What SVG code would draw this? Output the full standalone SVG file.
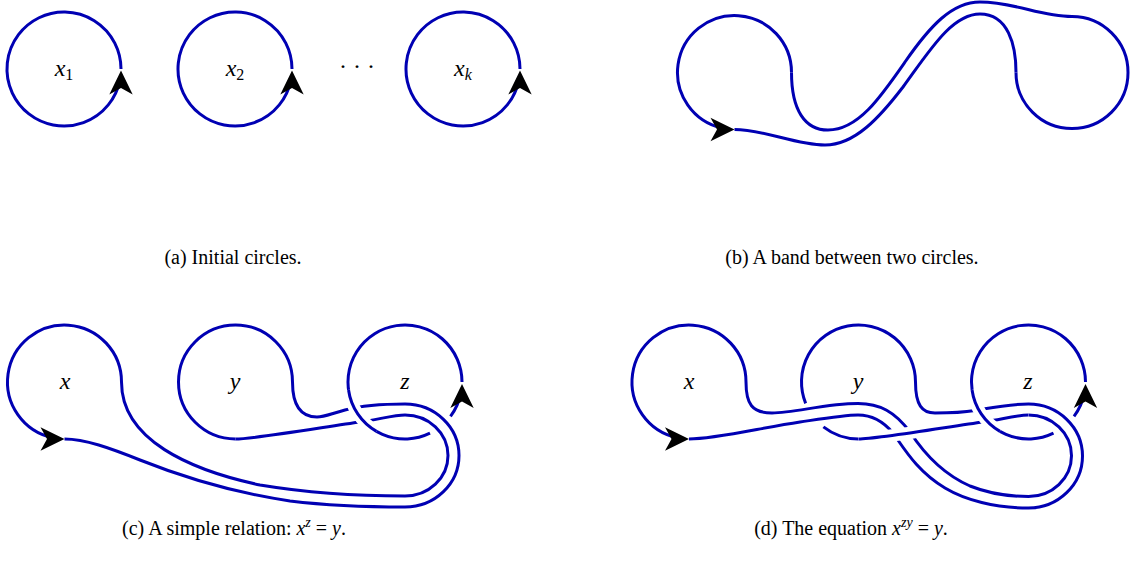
<svg xmlns="http://www.w3.org/2000/svg" width="1130" height="563" viewBox="0 0 1130 563">
<defs>
<path id="ah" d="M0,0 L-24,-11.7 L-17.5,0 L-24,11.7 Z" fill="#000"/>
</defs>
<style>
.c{fill:none;stroke:#0000B3;stroke-width:3}
.h{fill:none;stroke:#fff;stroke-width:12}
.lbl{font-family:"Liberation Serif",serif;font-style:italic;font-size:24px;fill:#000;text-anchor:middle}
.sub{font-size:16px}
.up{font-style:normal}
.cap{font-family:"Liberation Serif",serif;font-size:20px;fill:#000;text-anchor:middle}
.m{font-style:italic}
</style>
<rect width="1130" height="563" fill="#fff"/>

<!-- (a) -->
<g id="a-x1">
<path class="c" d="M121,69 A57,57 0 1 0 119.75,80.85"/>
<use href="#ah" transform="translate(121,70.5) rotate(-90)"/>
<text class="lbl" x="64" y="76">x<tspan class="sub up" dy="4">1</tspan></text>
</g>
<g id="a-x2">
<path class="c" d="M292,69 A57,57 0 1 0 290.75,80.85"/>
<use href="#ah" transform="translate(292,70.5) rotate(-90)"/>
<text class="lbl" x="235" y="76">x<tspan class="sub up" dy="4">2</tspan></text>
</g>
<g id="a-dots">
<text class="lbl up" x="357" y="74" style="font-style:normal">· · ·</text>
</g>
<g id="a-xk">
<path class="c" d="M520,69 A57,57 0 1 0 518.75,80.85"/>
<use href="#ah" transform="translate(520,70.5) rotate(-90)"/>
<text class="lbl" x="463" y="76">x<tspan class="sub" dy="4">k</tspan></text>
</g>
<text class="cap" x="233" y="264">(a) Initial circles.</text>

<!-- (b) -->
<g id="b-left">
<path class="c" d="M791.5,72.5 A57,57 0 1 0 722.65,128.25"/>
</g>
<g id="b-right">
<path class="c" d="M1016,72.5 A56,56 0 1 0 1072,16.5"/>
</g>
<g id="b-band">
<path class="c" d="M791.5,72.5 C791.5,110 805,130 828,130 C858,130 880,98 905,62 C930,26 952,2 980,2 C1015,2 1040,16.5 1072,16.5"/>
<path class="c" d="M734.5,129.5 C765,129.5 795,145 825,145 C855,145 880,117 903,87 C930,50 952,14 980,14 C1008,14 1016,45 1016,72.5"/>
</g>
<use href="#ah" transform="translate(734.5,129.5)"/>
<text class="cap" x="852" y="264">(b) A band between two circles.</text>

<!-- (c) -->
<g id="c-x">
<path class="c" d="M121.5,382 A57,57 0 1 0 52.65,437.75"/>
<text class="lbl" x="65" y="389">x</text>
</g>
<g id="c-y">
<path class="c" d="M292.5,382 A57,57 0 1 0 235.5,439"/>
<text class="lbl" x="235" y="389">y</text>
</g>
<g id="c-z">
<path class="c" d="M462,382 A57,57 0 1 0 430,433.2"/>
<path class="c" d="M450.5,416.3 A57,57 0 0 0 460.75,393.85"/>
<text class="lbl" x="405" y="389">z</text>
</g>
<g id="c-band">
<path class="c" d="M121.5,382 C121.5,440 190,470 260,485 C320,495 370,496 405,496 C428.7,496 448,477.9 448,455.5 C448,433.1 428.7,415 405,415 C395,415 380,419 360,422 C330,426 255,439 235.5,439"/>
<path class="c" d="M64.5,439 C85,439 110,448 140,460 C180,476 230,492 290,501 C340,507 380,507 405,507 C434.8,507 459,484 459,455.5 C459,427 434.8,404 405,404 C385,404 360,406 345,410 C330,414 325,417 317,417 C300,417 292.5,405 292.5,382"/>
</g>
<g id="c-z-over">
<path class="h" d="M376.5,431.36 A57,57 0 0 1 348.55,389.93"/>
<path class="c" d="M376.5,431.36 A57,57 0 0 1 348.55,389.93"/>
</g>
<use href="#ah" transform="translate(64.5,439)"/>
<use href="#ah" transform="translate(462,384) rotate(-90)"/>
<text class="cap" x="234" y="535">(c) A simple relation: <tspan class="m">x</tspan><tspan class="m" font-size="14" dy="-8">z</tspan><tspan dy="8"> = </tspan><tspan class="m">y</tspan>.</text>

<!-- (d) -->
<g id="d-x">
<path class="c" d="M746,382 A57,57 0 1 0 677.15,437.75"/>
<text class="lbl" x="689" y="389">x</text>
</g>
<g id="d-y">
<path class="c" d="M915.5,382 A57,57 0 1 0 805.65,403.35"/>
<path class="c" d="M823.4,426.9 A57,57 0 0 0 858.5,439"/>
<text class="lbl" x="858" y="389">y</text>
</g>
<g id="d-z">
<path class="c" d="M1085.5,382 A57,57 0 1 0 1053.5,433.2"/>
<path class="c" d="M1074,416.3 A57,57 0 0 0 1084.25,393.85"/>
<text class="lbl" x="1028" y="389">z</text>
</g>
<g id="d-band">
<path class="c" d="M689,439 C715,439 760,428 800,422 C830,417.5 845,415 858,415 C872,415 883,421 893,433 C905,450 918,472 945,488 C965,500 995,508 1028.5,508 C1058.3,508 1082.5,484.5 1082.5,456 C1082.5,427.5 1058.3,404 1028.5,404 C1008,404 990,408 975,410.5 C960,413 945,413 935,413 C922,413 915.5,405 915.5,382"/>
<path class="c" d="M746,382 C746,404 752,413 772,413 C795,413 825,403.5 858,403.5 C880,403.5 895,412 910,432 C925,455 945,475 970,486 C990,494 1008,496.5 1028.5,496.5 C1052.2,496.5 1071.5,478.3 1071.5,455.75 C1071.5,433.2 1052.2,415 1028.5,415"/>
<path class="h" d="M858.5,439 C878,439 953,426 983,422 C1003,419 1018,415 1028.5,415"/>
<path class="c" d="M858.5,439 C878,439 953,426 983,422 C1003,419 1018,415 1028.5,415"/>
</g>
<g id="d-z-over">
<path class="h" d="M1000,431.36 A57,57 0 0 1 972.05,389.93"/>
<path class="c" d="M1000,431.36 A57,57 0 0 1 972.05,389.93"/>
</g>
<use href="#ah" transform="translate(689,439)"/>
<use href="#ah" transform="translate(1085.5,384) rotate(-90)"/>
<text class="cap" x="851" y="535">(d) The equation <tspan class="m">x</tspan><tspan class="m" font-size="14" dy="-8">zy</tspan><tspan dy="8"> = </tspan><tspan class="m">y</tspan>.</text>
</svg>
